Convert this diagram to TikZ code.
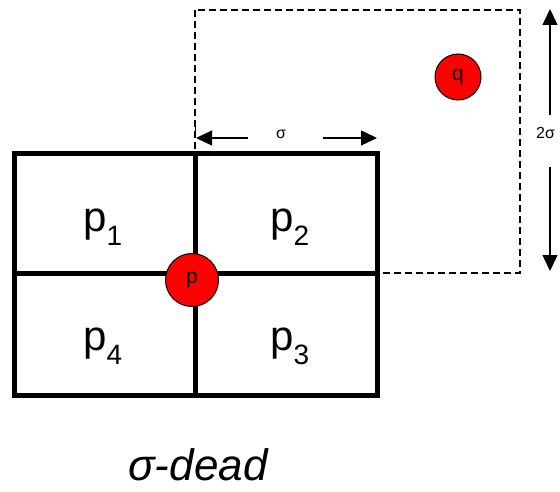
\documentclass[tikz,border=0pt]{standalone}
\usepackage{fontspec}
\setmainfont{Liberation Sans}
\usetikzlibrary{arrows.meta}

\newcommand{\cellsub}[1]{\raisebox{-14pt}{\fontsize{28}{30}\selectfont #1}}

\begin{document}
\begin{tikzpicture}[x=1pt, y=-1pt, >={Triangle[length=16pt, width=15pt]},
  cellline/.style={line width=5pt, line cap=rect},
  pnode/.style={circle, draw, fill=red, line width=1pt, inner sep=0pt, font=\fontsize{21}{22}\selectfont},
  celllabel/.style={anchor=base west, inner sep=0pt, font=\fontsize{42}{44}\selectfont},
  extent/.style={->, line width=1.3pt}]
  \useasboundingbox (0,0) rectangle (560,492);
  % search region of q
  \draw[dash pattern=on 7pt off 4pt, line width=1.2pt] (195,10) rectangle (520,273);
  % grid cells
  \draw[cellline] (14,154) rectangle (377,395);
  \draw[cellline] (195,154) -- (195,395);
  \draw[cellline] (14,273) -- (377,273);
  \node[celllabel] (p1) at (83,231) {p\cellsub{1}};
  \node[celllabel] (p2) at (270,231) {p\cellsub{2}};
  \node[celllabel] (p4) at (83,350) {p\cellsub{4}};
  \node[celllabel] (p3) at (270,350) {p\cellsub{3}};
  % points
  \node[pnode, minimum size=53pt] (p) at (192,280) {p};
  \node[pnode, minimum size=46pt] (q) at (458,77) {q};
  % sigma extent
  \coordinate (sl) at (196,138);
  \coordinate (sr) at (377,138);
  \draw[line width=0.8pt] (195,122) -- (195,133);
  \node[font=\fontsize{16}{17}\selectfont] (sig) at (281,134) {σ};
  \draw[extent] (248,138) -- (sl);
  \draw[extent] (323,138) -- (sr);
  % 2 sigma extent
  \coordinate (tt) at (550,9);
  \coordinate (tb) at (550,271);
  \node[font=\fontsize{16}{17}\selectfont, anchor=west, inner sep=0pt] (sig2) at (536,133) {2σ};
  \draw[extent] (550,115) -- (tt);
  \draw[extent] (550,167) -- (tb);
  % caption
  \node[font=\fontsize{44}{46}\selectfont\itshape, anchor=base, inner sep=0pt] (cap) at (198,480) {σ-dead};
\end{tikzpicture}
\end{document}
